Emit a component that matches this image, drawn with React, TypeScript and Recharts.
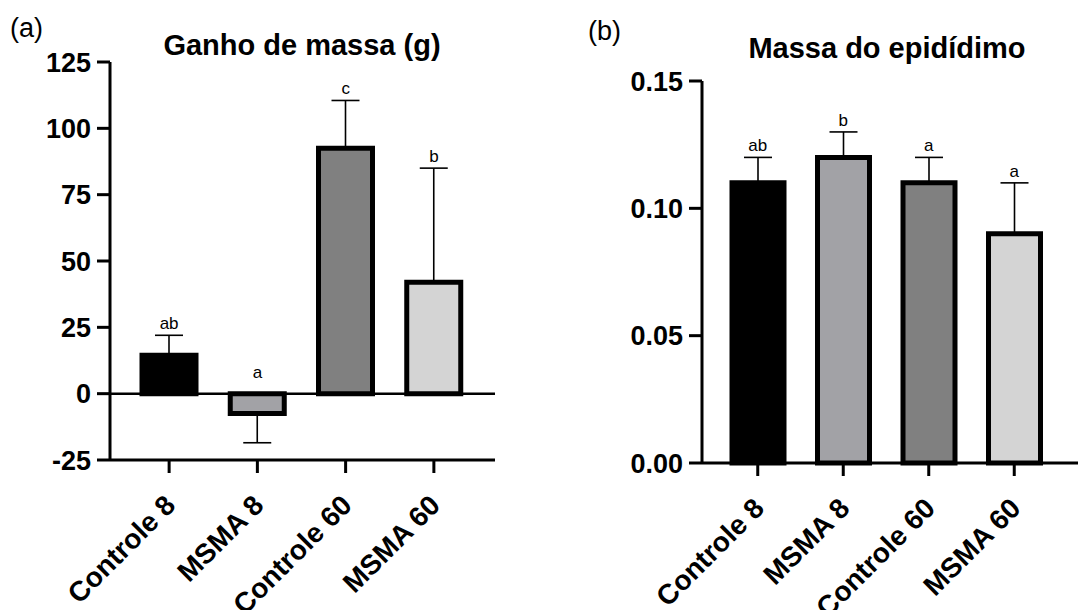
import React from 'react';
import { ComposedChart, Bar, Cell, Line, XAxis, YAxis, ErrorBar, LabelList, ReferenceLine } from 'recharts';

const categories = ['Controle 8', 'MSMA 8', 'Controle 60', 'MSMA 60'];
const fills = ['#000000', '#a2a2a6', '#808080', '#d4d4d4'];

const gainMeans = [14.5, -7.5, 92.5, 42];
const gainErrors = [7.5, 11, 18, 43];
const gainLetters = ['ab', 'a', 'c', 'b'];
const gainTicks = [-25, 0, 25, 50, 75, 100, 125];

const epiMeans = [0.11, 0.12, 0.11, 0.09];
const epiErrors = [0.01, 0.01, 0.01, 0.02];
const epiLetters = ['ab', 'b', 'a', 'a'];
const epiTicks = [0, 0.05, 0.1, 0.15];

const FONT = '"Liberation Sans", Arial, sans-serif';

const buildRows = (means: number[], errors: number[], letters: string[]) =>
    categories.map((name, i) => ({
        name,
        mean: means[i],
        // one-sided error: away from zero
        err: means[i] >= 0 ? [0, errors[i]] : [errors[i], 0],
        labelY: Math.max(0, means[i] + errors[i]),
        letter: letters[i],
    }));

const gainData = buildRows(gainMeans, gainErrors, gainLetters);
const epiData = buildRows(epiMeans, epiErrors, epiLetters);

const RotatedTick = (props: any) => {
    const { x, y, payload } = props;
    const ax = x + 8;
    const ay = y + 32;
    return (
        <text
            x={ax}
            y={ay}
            transform={`rotate(-45, ${ax}, ${ay})`}
            textAnchor="end"
            fontFamily={FONT}
            fontWeight="bold"
            fontSize={28}
            fill="#000"
        >
            {payload.value}
        </text>
    );
};

const LetterLabel = (props: any) => {
    const x = props.x ?? props.viewBox?.x;
    const y = props.y ?? props.viewBox?.y;
    return (
        <text x={x} y={y - 6} textAnchor="middle" fontFamily={FONT} fontSize={17} fill="#000">
            {props.value}
        </text>
    );
};

const axisStyle = { stroke: '#000', strokeWidth: 3 };
const tickStyle = { fill: '#000', fontFamily: FONT, fontWeight: 'bold' as const, fontSize: 27 };

interface PanelProps {
    data: any[];
    width: number;
    margin: { top: number; right: number; bottom: number; left: number };
    yWidth: number;
    xHeight: number;
    domain: [number, number];
    ticks: number[];
    padding: { left: number; right: number };
    barSize: number;
    digits: number;
    zeroLine?: boolean;
}

const Panel: React.FC<PanelProps> = ({ data, width, margin, yWidth, xHeight, domain, ticks, padding, barSize, digits, zeroLine }) => (
    <ComposedChart width={width} height={610} data={data} margin={margin}>
        <XAxis
            dataKey="name"
            height={xHeight}
            padding={padding}
            axisLine={axisStyle}
            tickLine={axisStyle}
            tickSize={13}
            tick={<RotatedTick />}
            interval={0}
        />
        <YAxis
            width={yWidth}
            domain={domain}
            ticks={ticks}
            interval={0}
            axisLine={axisStyle}
            tickLine={axisStyle}
            tickSize={13}
            tickMargin={6}
            tick={tickStyle}
            tickFormatter={(v: number) => v.toFixed(digits)}
        />
        {zeroLine && <ReferenceLine y={0} stroke="#000" strokeWidth={2.5} />}
        <Bar dataKey="mean" barSize={barSize} stroke="#000" strokeWidth={5} isAnimationActive={false}>
            {data.map((d, i) => (
                <Cell key={`c-${i}`} fill={fills[i]} />
            ))}
            <ErrorBar dataKey="err" direction="y" width={14} stroke="#000" strokeWidth={1.6} />
        </Bar>
        <Line dataKey="labelY" stroke="none" dot={false} activeDot={false} legendType="none" isAnimationActive={false}>
            <LabelList dataKey="letter" content={<LetterLabel />} />
        </Line>
    </ComposedChart>
);

export default function App() {
    return (
        <div style={{ position: 'absolute', left: 0, top: 0, width: 1078, height: 610, background: '#fff', fontFamily: FONT }}>
            <div style={{ position: 'absolute', left: 0, top: 0 }}>
                <Panel
                    data={gainData}
                    width={540}
                    margin={{ top: 62, right: 45, bottom: 0, left: 0 }}
                    yWidth={110}
                    xHeight={150}
                    domain={[-25, 125]}
                    ticks={gainTicks}
                    padding={{ left: 15, right: 17 }}
                    barSize={54}
                    digits={0}
                    zeroLine
                />
            </div>
            <div style={{ position: 'absolute', left: 540, top: 0 }}>
                <Panel
                    data={epiData}
                    width={538}
                    margin={{ top: 81, right: 0, bottom: 0, left: 0 }}
                    yWidth={162}
                    xHeight={147}
                    domain={[0, 0.15]}
                    ticks={epiTicks}
                    padding={{ left: 13, right: 21 }}
                    barSize={52}
                    digits={2}
                />
            </div>
            <svg width={1078} height={610} style={{ position: 'absolute', left: 0, top: 0, pointerEvents: 'none' }}>
                <text x={10} y={37} fontFamily={FONT} fontSize={27} fill="#000">(a)</text>
                <text x={302} y={55} textAnchor="middle" fontFamily={FONT} fontWeight="bold" fontSize={29} fill="#000">
                    Ganho de massa (g)
                </text>
                <text x={588} y={40} fontFamily={FONT} fontSize={27} fill="#000">(b)</text>
                <text x={887} y={58} textAnchor="middle" fontFamily={FONT} fontWeight="bold" fontSize={29} fill="#000">
                    Massa do epidídimo
                </text>
            </svg>
        </div>
    );
}
